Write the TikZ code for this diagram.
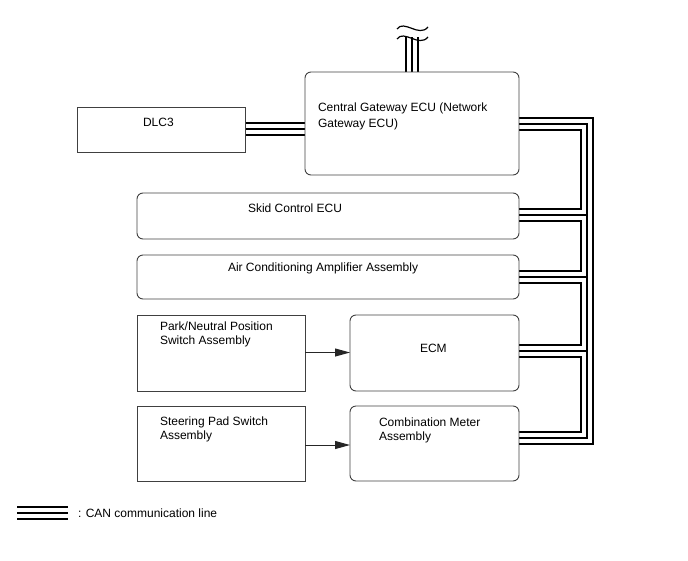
\documentclass[tikz,border=0pt]{standalone}
\usepackage{fontspec}
\setmainfont{Liberation Sans}
\usetikzlibrary{arrows.meta}
\tikzset{
  sqbox/.style={draw=black!75, line width=0.9pt, outer sep=0pt, inner sep=0pt},
  rbox/.style={sqbox, rounded corners=6pt},
  txt/.style={inner sep=0pt, outer sep=0pt, anchor=base west, font=\fontsize{12}{14}\selectfont},
  canA/.style={line width=14pt, black, line join=miter},
  canB/.style={line width=10pt, white, line join=miter},
  canC/.style={line width=1.3pt, black, line join=miter},
  arr/.style={draw=black!85, line width=1pt, -{Triangle[length=15pt,width=8pt]}},
  tilde/.style={draw=black, line width=1.2pt}
}
\newcommand\canpaths[1]{%
  \draw[#1] (gw.east |- yGW) -| (vx |- yCM) -- (cm.east |- yCM);
  \draw[#1] (sk.east |- ySK) -- (vx |- ySK);
  \draw[#1] (ac.east |- yAC) -- (vx |- yAC);
  \draw[#1] (ecm.east |- yEC) -- (vx |- yEC);
  \draw[#1] (dlc.east |- yDL) -- (gw.west |- yDL);
  \draw[#1] (gw.north) -- (cabEnd);
  \draw[#1] (lg1) -- (lg2);
}
\begin{document}
\begin{tikzpicture}[x=1pt,y=-1pt]
\useasboundingbox (0,0) rectangle (688,560);
% boxes (geometry)
\path (161,129.5) node[minimum width=168pt, minimum height=45pt, inner sep=0pt, outer sep=0pt] (dlc) {};
\path (412,123.5) node[minimum width=214pt, minimum height=103pt, inner sep=0pt, outer sep=0pt] (gw) {};
\path (328,216) node[minimum width=382pt, minimum height=46pt, inner sep=0pt, outer sep=0pt] (sk) {};
\path (328,277) node[minimum width=382pt, minimum height=44pt, inner sep=0pt, outer sep=0pt] (ac) {};
\path (221,353) node[minimum width=168pt, minimum height=76pt, inner sep=0pt, outer sep=0pt] (pn) {};
\path (434.5,353) node[minimum width=169pt, minimum height=76pt, inner sep=0pt, outer sep=0pt] (ecm) {};
\path (221,443.5) node[minimum width=168pt, minimum height=75pt, inner sep=0pt, outer sep=0pt] (st) {};
\path (434.5,443.5) node[minimum width=169pt, minimum height=75pt, inner sep=0pt, outer sep=0pt] (cm) {};
% helper coordinates
\coordinate (vx) at (587,0);
\coordinate (yGW) at (0,124);
\coordinate (ySK) at (0,215);
\coordinate (yAC) at (0,277);
\coordinate (yEC) at (0,351);
\coordinate (yCM) at (0,438);
\coordinate (yDL) at (0,129);
\coordinate (cabEnd) at (412,37);
\coordinate (lg1) at (17,513);
\coordinate (lg2) at (68,513);
\coordinate (yA1) at (0,352.5);
\coordinate (yA2) at (0,445);
% CAN lines (three layers)
\canpaths{canA}
\canpaths{canB}
\canpaths{canC}
% break symbol
\draw[tilde] (397,39) .. controls (404,29) and (419,48) .. (428,37);
\draw[tilde] (397,29) .. controls (404,19) and (419,38) .. (428,27);
% visible box outlines
\draw[sqbox] (dlc.north west) rectangle (dlc.south east);
\draw[rbox] (gw.north west) rectangle (gw.south east);
\draw[rbox] (sk.north west) rectangle (sk.south east);
\draw[rbox] (ac.north west) rectangle (ac.south east);
\draw[sqbox] (pn.north west) rectangle (pn.south east);
\draw[rbox] (ecm.north west) rectangle (ecm.south east);
\draw[sqbox] (st.north west) rectangle (st.south east);
\draw[rbox] (cm.north west) rectangle (cm.south east);
% arrows
\draw[arr] (pn.east |- yA1) -- (ecm.west |- yA1);
\draw[arr] (st.east |- yA2) -- (cm.west |- yA2);
% texts
\node[txt] (tdlc) at (143,126) {DLC3};
\node[txt] (tgw1) at (318,111) {Central Gateway ECU (Network};
\node[txt] (tgw2) at (318,127) {Gateway ECU)};
\node[txt] (tsk) at (248,212) {Skid Control ECU};
\node[txt] (tac) at (228,271) {Air Conditioning Amplifier Assembly};
\node[txt] (tpn1) at (160,330) {Park/Neutral Position};
\node[txt] (tpn2) at (160,344) {Switch Assembly};
\node[txt] (tecm) at (420,352) {ECM};
\node[txt] (tst1) at (160,425) {Steering Pad Switch};
\node[txt] (tst2) at (160,439) {Assembly};
\node[txt] (tcm1) at (379,426) {Combination Meter};
\node[txt] (tcm2) at (379,440) {Assembly};
\node[txt] (tlg) at (78,517) {: CAN communication line};
\end{tikzpicture}
\end{document}
